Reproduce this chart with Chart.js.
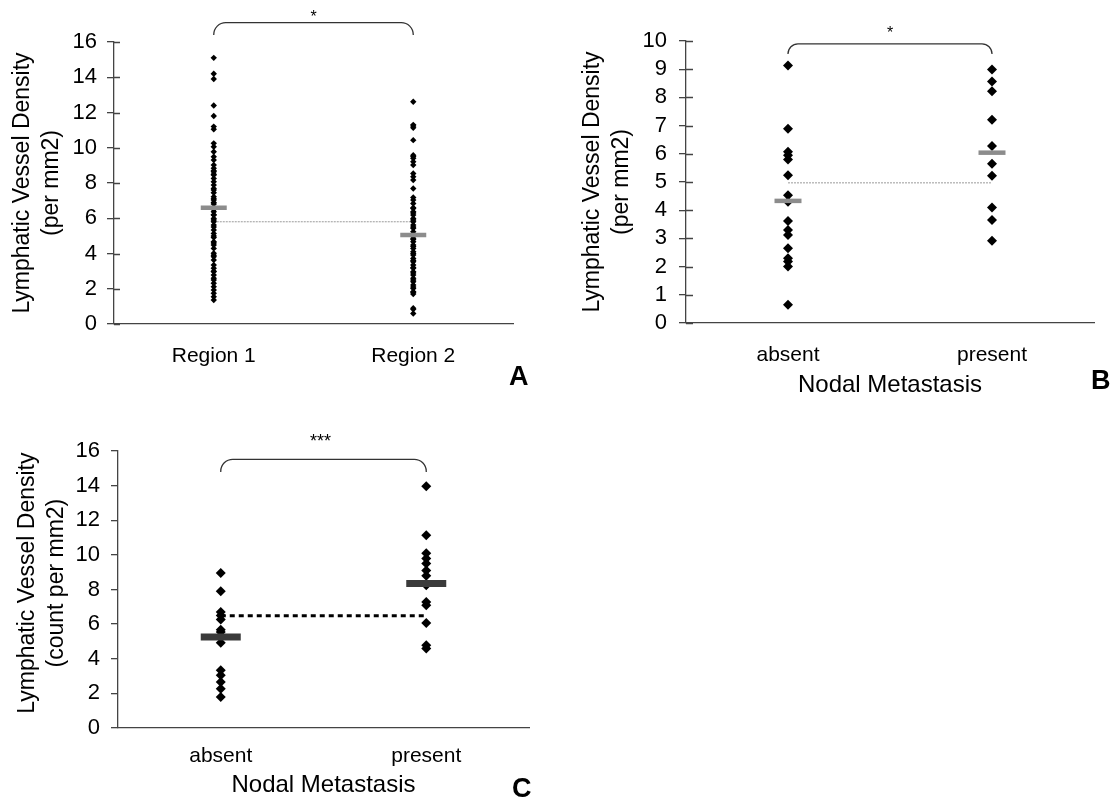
<!DOCTYPE html>
<html lang="en">
<head>
  <meta charset="UTF-8">
  <title>Lymphatic Vessel Density</title>
  <script src="https://cdn.jsdelivr.net/npm/chart.js"></script>
  <style>
    body { margin: 0; background: #fff; }
    #wrap { position: relative; width: 1112px; height: 808px; font-family: "Liberation Sans", Arial, sans-serif; }
    canvas { position: absolute; }
    .letter { position: absolute; font-weight: bold; font-size: 27px; line-height: 1; }
  </style>
</head>
<body>
<div id="wrap">
  <canvas id="chartA" width="556" height="400" style="left:0;top:0"></canvas>
  <canvas id="chartB" width="556" height="400" style="left:556px;top:0"></canvas>
  <canvas id="chartC" width="556" height="408" style="left:0;top:400px"></canvas>
  <div class="letter" style="left:509px;top:363px">A</div>
  <div class="letter" style="left:1091px;top:367px">B</div>
  <div class="letter" style="left:512px;top:775px">C</div>
</div>

<script>
  // panel A
  const regionLabels = ['Region 1', 'Region 2'];
  const region1 = [15.1, 14.2, 13.9, 12.4, 11.8, 11.2, 11.05, 10.25, 10.06, 9.77, 9.49, 9.3, 9.02, 8.83,
    8.7, 8.64, 8.5, 8.45, 8.26, 8.07, 7.88, 7.69, 7.6, 7.45, 7.22, 7.1, 7.03, 6.9, 6.81, 6.56, 6.5, 6.37,
    6.2, 6.18, 5.99, 5.9, 5.8, 5.61, 5.5, 5.33, 5.14, 5.0, 4.91, 4.67, 4.6, 4.48, 4.29, 4.01, 3.9, 3.82,
    3.63, 3.35, 3.16, 3.0, 2.97, 2.78, 2.6, 2.5, 2.31, 2.12, 1.93, 1.74, 1.55, 1.36];
  const region2 = [12.61, 11.3, 11.23, 11.13, 10.43, 9.58, 9.5, 9.4, 9.21, 9.02, 8.54, 8.36, 8.17, 7.69,
    7.18, 7.03, 6.84, 6.6, 6.56, 6.37, 6.3, 6.18, 5.99, 5.9, 5.8, 5.61, 5.5, 5.43, 5.24, 5.1, 5.05, 4.86,
    4.8, 4.67, 4.48, 4.4, 4.29, 4.1, 4.0, 3.91, 3.72, 3.6, 3.53, 3.35, 3.2, 3.16, 2.97, 2.9, 2.78, 2.59,
    2.5, 2.4, 2.21, 2.1, 2.02, 1.83, 1.8, 1.7, 0.9, 0.83, 0.6];
  const meanA = [6.6, 5.05];
  const overallA = 5.8;

  // panel B
  const nodalLabels = ['absent', 'present'];
  const absentB = [9.13, 6.89, 6.07, 5.95, 5.8, 5.24, 4.53, 4.3, 3.62, 3.3, 3.12, 2.65, 2.3, 2.18, 2.0, 0.65];
  const presentB = [8.99, 8.56, 8.22, 7.21, 6.28, 5.65, 5.22, 4.1, 3.65, 2.92];
  const meanB = [4.33, 6.04];
  const overallB = 4.97;

  // panel C
  const absentC = [8.96, 7.9, 6.7, 6.5, 6.26, 5.68, 5.55, 4.93, 3.33, 3.04, 2.66, 2.27, 1.79];
  const presentC = [13.97, 11.14, 10.1, 9.79, 9.5, 9.1, 8.8, 8.25, 7.28, 7.09, 6.07, 4.78, 4.59];
  const meanC = [5.26, 8.34];
  const overallC = 6.49;

  const FONT = '"Liberation Sans", Arial, sans-serif';
  const AXIS = '#444';

  // significance bracket above the two groups, plus the inner half of the y ticks
  const bracketPlugin = {
    id: 'bracket',
    afterDraw(chart, args, opts) {
      const {ctx, scales: {x, y}} = chart;
      ctx.save();
      ctx.strokeStyle = AXIS;
      ctx.lineWidth = 1.3;
      ctx.beginPath();
      y.ticks.forEach(t => {
        const py = Math.round(y.getPixelForValue(t.value)) + 0.5;
        ctx.moveTo(y.right, py);
        ctx.lineTo(y.right + opts.innerTick, py);
      });
      ctx.stroke();

      const x1 = x.getPixelForValue(0), x2 = x.getPixelForValue(1);
      const top = y.getPixelForValue(opts.top), end = y.getPixelForValue(opts.end);
      const r = opts.radius;
      ctx.strokeStyle = '#333';
      ctx.beginPath();
      ctx.moveTo(x1, end);
      ctx.arcTo(x1, top, x1 + r, top, r);
      ctx.arcTo(x2, top, x2, top + r, r);
      ctx.lineTo(x2, end);
      ctx.stroke();
      ctx.fillStyle = '#000';
      ctx.font = opts.fontSize + 'px ' + FONT;
      ctx.textAlign = 'center';
      ctx.textBaseline = 'alphabetic';
      ctx.fillText(opts.label, (x1 + x2) / 2 + opts.dx, top - opts.gap);
      ctx.restore();
    }
  };

  function pts(label, vals) {
    return vals.map(v => ({x: label, y: v}));
  }

  function makePanel(id, p) {
    const datasets = [
      {
        data: [{x: p.labels[0], y: p.means[0]}, {x: p.labels[1], y: p.means[1]}],
        showLine: false, pointStyle: 'line', pointRadius: p.meanHalf,
        pointBorderColor: p.meanColor, pointBorderWidth: p.meanWidth
      },
      {
        data: pts(p.labels[0], p.groupA).concat(pts(p.labels[1], p.groupB)),
        showLine: false, pointStyle: 'rectRot', pointRadius: p.dot,
        pointBackgroundColor: '#000', pointBorderColor: '#000', pointBorderWidth: 0
      },
      {
        data: [{x: p.labels[0], y: p.overall}, {x: p.labels[1], y: p.overall}],
        showLine: true, pointRadius: 0, borderColor: p.lineColor,
        borderWidth: p.lineWidth, borderDash: p.dash
      }
    ];
    return new Chart(document.getElementById(id), {
      type: 'line',
      data: {labels: p.labels, datasets: datasets},
      plugins: [bracketPlugin],
      options: {
        responsive: false,
        animation: false,
        layout: {padding: p.pad},
        plugins: {
          legend: {display: false},
          tooltip: {enabled: false},
          bracket: p.bracket
        },
        scales: {
          x: {
            type: 'category', offset: true,
            afterFit: s => { s.height = p.xHeight; },
            grid: {display: true, drawOnChartArea: false, drawTicks: false},
            border: {display: true, color: AXIS, width: 1.3},
            ticks: {color: '#000', padding: p.xPad, font: {family: FONT, size: 21}},
            title: {display: !!p.xTitle, text: p.xTitle, color: '#000',
              padding: {top: 0, bottom: p.xTitlePad}, font: {family: FONT, size: 24}}
          },
          y: {
            min: 0, max: p.yMax,
            afterFit: s => { s.width = p.yWidth; },
            grid: {display: true, drawOnChartArea: false, tickLength: 7, color: AXIS, lineWidth: 1.3},
            border: {display: true, color: AXIS, width: 1.3},
            ticks: {stepSize: p.step, autoSkip: false, color: '#000', padding: p.yPad,
              font: {family: FONT, size: 22}},
            title: {display: true, text: p.yTitle, color: '#000',
              padding: {top: p.yTitlePad, bottom: 0}, font: {family: FONT, size: 23, lineHeight: 1.26}}
          }
        }
      }
    });
  }

  makePanel('chartA', {
    labels: regionLabels, groupA: region1, groupB: region2, means: meanA, overall: overallA,
    dot: 3.2, meanHalf: 13, meanColor: '#8c8c8c', meanWidth: 4.5,
    lineColor: '#9a9a9a', lineWidth: 1, dash: [2, 1],
    pad: {top: 42, right: 43, left: 0, bottom: 0}, yWidth: 114, xHeight: 76,
    yMax: 16, step: 2, yPad: 10, xPad: 20, xTitle: '', xTitlePad: 0,
    yTitle: ['Lymphatic Vessel Density', '(per mm2)'], yTitlePad: 8,
    bracket: {top: 17.1, end: 16.4, radius: 12, label: '*', fontSize: 16, gap: 1, dx: 0, innerTick: 6}
  });

  makePanel('chartB', {
    labels: nodalLabels, groupA: absentB, groupB: presentB, means: meanB, overall: overallB,
    dot: 5, meanHalf: 13.5, meanColor: '#8c8c8c', meanWidth: 4.5,
    lineColor: '#9a9a9a', lineWidth: 1, dash: [2, 1],
    pad: {top: 41, right: 2, left: 0, bottom: 0}, yWidth: 130, xHeight: 77,
    yMax: 10, step: 1, yPad: 12, xPad: 20, xTitle: 'Nodal Metastasis', xTitlePad: 0,
    yTitle: ['Lymphatic Vessel Density', '(per mm2)'], yTitlePad: 22,
    bracket: {top: 9.9, end: 9.54, radius: 10, label: '*', fontSize: 16, gap: 6, dx: 0, innerTick: 7}
  });

  makePanel('chartC', {
    labels: nodalLabels, groupA: absentC, groupB: presentC, means: meanC, overall: overallC,
    dot: 5, meanHalf: 20, meanColor: '#3a3a3a', meanWidth: 7,
    lineColor: '#000', lineWidth: 3, dash: [5, 4],
    pad: {top: 51, right: 11, left: 0, bottom: 0}, yWidth: 118, xHeight: 80,
    yMax: 16, step: 2, yPad: 11, xPad: 16, xTitle: 'Nodal Metastasis', xTitlePad: 8,
    yTitle: ['  Lymphatic Vessel Density', '  (count per mm2)'], yTitlePad: 13,
    bracket: {top: 15.52, end: 14.79, radius: 12, label: '***', fontSize: 18, gap: 12, dx: -3, innerTick: 0}
  });
</script>
</body>
</html>
